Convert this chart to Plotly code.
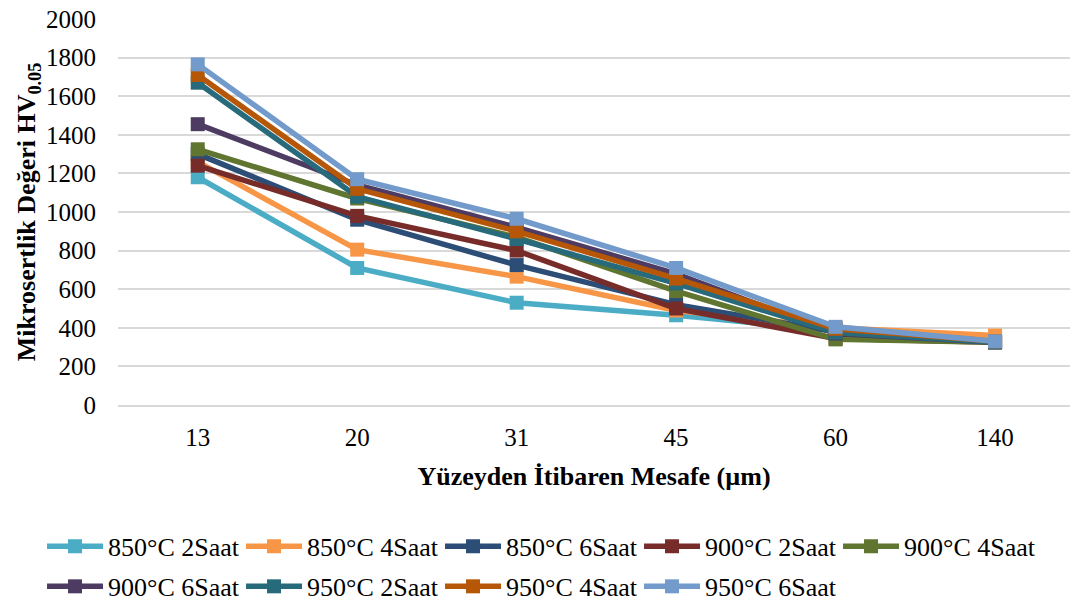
import plotly.graph_objects as go

categories = ["13", "20", "31", "45", "60", "140"]

s850_2 = [1180, 710, 530, 465, 385, 330]
s850_4 = [1260, 805, 665, 490, 400, 360]
s850_6 = [1300, 960, 725, 520, 380, 325]
s900_2 = [1240, 980, 800, 500, 345, 325]
s900_4 = [1325, 1070, 870, 590, 340, 325]
s900_6 = [1455, 1140, 920, 680, 370, 325]
s950_2 = [1670, 1080, 860, 630, 375, 325]
s950_4 = [1710, 1120, 900, 655, 395, 330]
s950_6 = [1765, 1170, 965, 710, 405, 330]

names = ["850°C 2Saat", "850°C 4Saat", "850°C 6Saat",
         "900°C 2Saat", "900°C 4Saat", "900°C 6Saat",
         "950°C 2Saat", "950°C 4Saat", "950°C 6Saat"]
series = [s850_2, s850_4, s850_6, s900_2, s900_4, s900_6, s950_2, s950_4, s950_6]
colors = ["#4BACC6", "#F79646", "#2C4D75", "#772C2A", "#5F7530",
          "#4D3B62", "#276A7C", "#B65708", "#729ACA"]

FONT = "Liberation Serif"

fig = go.Figure()
for i, (n, s, c) in enumerate(zip(names, series, colors)):
    fig.add_trace(go.Scatter(
        x=categories, y=s, name=n, mode="lines+markers",
        line=dict(color=c, width=5.5),
        marker=dict(symbol="square", size=14, color=c, line=dict(width=0)),
        legend="legend" if i < 5 else "legend2",
    ))

legend_common = dict(
    orientation="h", xanchor="left", yanchor="middle",
    font=dict(family=FONT, size=26, color="black"),
    itemwidth=56,
    entrywidth=128, entrywidthmode="pixels",
    bgcolor="rgba(0,0,0,0)", borderwidth=0,
    itemclick=False, itemdoubleclick=False,
)

fig.update_layout(
    width=1070, height=606,
    margin=dict(l=118, r=0, t=19, b=201, autoexpand=False),
    paper_bgcolor="white", plot_bgcolor="white",
    font=dict(family=FONT, size=25, color="black"),
    showlegend=True,
    legend=dict(x=-0.0798, y=-0.366, **legend_common),
    legend2=dict(x=-0.0798, y=-0.470, **legend_common),
    xaxis=dict(
        type="category", range=[-0.5, 5.47], automargin=False,
        showgrid=False, showline=True, linecolor="#D9D9D9", linewidth=1.5,
        ticks="", ticklabelstandoff=9,
        tickfont=dict(family=FONT, size=25, color="black"),
        title=dict(text="<b>Yüzeyden İtibaren Mesafe (µm)</b>",
                   font=dict(family=FONT, size=26, color="black"), standoff=17),
        fixedrange=True,
    ),
    yaxis=dict(
        range=[0, 2000], dtick=200, showgrid=True, gridcolor="#D9D9D9", gridwidth=1.5,
        automargin=False,
        zeroline=False, showline=False, ticks="", ticklabelstandoff=21,
        tickfont=dict(family=FONT, size=25, color="black"),
        title=dict(text="<b>Mikrosertlik Değeri HV<sub>0.05</sub></b>",
                   font=dict(family=FONT, size=26, color="black"), standoff=2),
        fixedrange=True,
    ),
)

fig.write_html("out.html")
